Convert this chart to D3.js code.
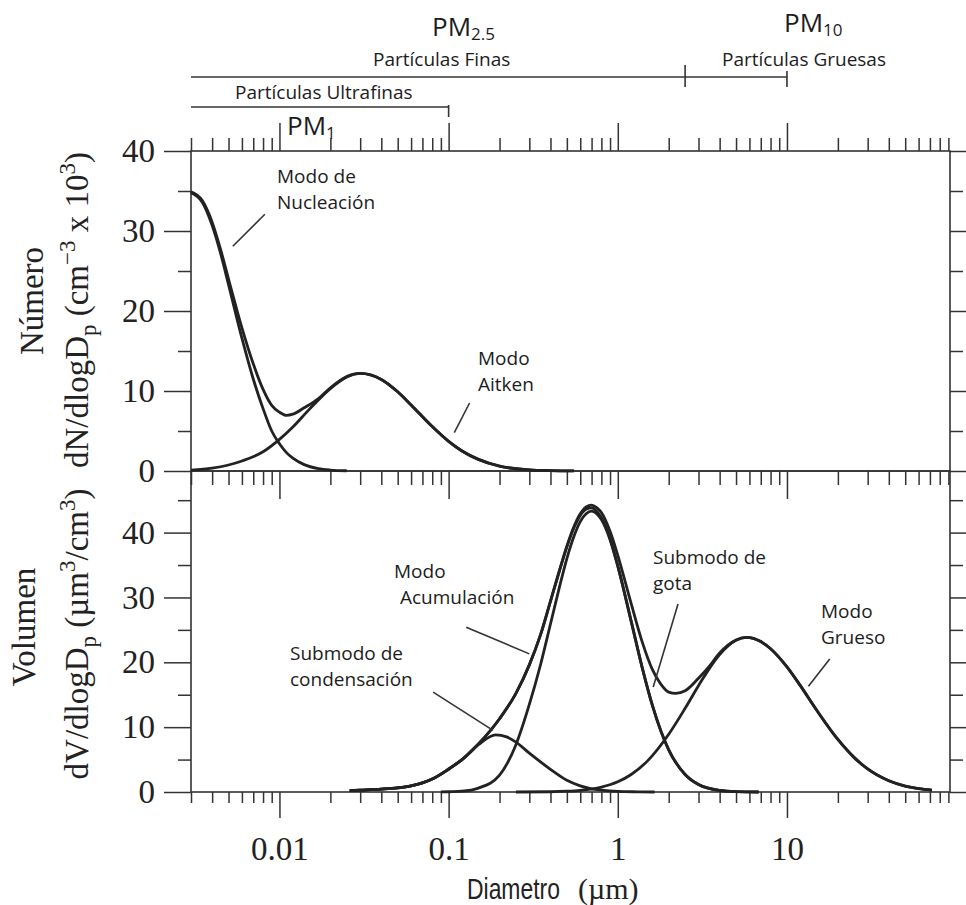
<!DOCTYPE html>
<html>
<head>
<meta charset="utf-8">
<script src="https://cdn.jsdelivr.net/npm/d3@7"></script>
<style>
  body { margin: 0; background: #fff; }
  svg { display: block; }
</style>
</head>
<body>
<svg width="966" height="905"></svg>
<script>
// Particle size distribution (number and volume).
// Diameters in µm.

// --- top panel: dN/dlogDp (cm^-3 x 10^3)
var nuclDp = [0.003, 0.0035, 0.004, 0.0045, 0.005, 0.006, 0.007, 0.008, 0.009, 0.01, 0.011, 0.012, 0.014, 0.017, 0.02, 0.025];
var nuclN  = [34.8, 33.6, 30.7, 27.1, 23.3, 16.6, 11.5, 7.8, 5.0, 3.4, 2.3, 1.6, 0.8, 0.3, 0.12, 0.03];

var aitkenDp = [0.003, 0.004, 0.005, 0.006, 0.008, 0.01, 0.012, 0.015, 0.02, 0.025, 0.03, 0.04, 0.05, 0.06, 0.08, 0.1, 0.12, 0.15, 0.2, 0.3, 0.4, 0.55];
var aitkenN  = [0.12, 0.35, 0.75, 1.25, 2.4, 3.95, 5.5, 7.7, 10.3, 11.75, 12.2, 11.45, 9.9, 8.25, 5.55, 3.7, 2.5, 1.45, 0.6, 0.15, 0.05, 0.01];

var totalNDp = [0.003, 0.0035, 0.004, 0.0045, 0.005, 0.006, 0.007, 0.008, 0.009, 0.01, 0.011, 0.012, 0.014, 0.017, 0.02, 0.025, 0.03, 0.04, 0.05, 0.06, 0.08, 0.1, 0.12, 0.15, 0.2, 0.3, 0.4, 0.55];
var totalN  = [34.9, 33.8, 31.1, 27.6, 24.0, 17.9, 13.4, 10.2, 8.2, 7.35, 6.95, 7.1, 7.9, 9.05, 10.4, 11.8, 12.2, 11.45, 9.9, 8.25, 5.55, 3.7, 2.5, 1.45, 0.6, 0.15, 0.05, 0.01];

// --- bottom panel: dV/dlogDp (µm^3/cm^3)
var condDp = [0.026, 0.03, 0.04, 0.05, 0.06, 0.07, 0.08, 0.1, 0.12, 0.15, 0.19, 0.22, 0.25, 0.3, 0.4, 0.5, 0.6, 0.7, 0.8, 1.0, 1.3, 1.65];
var condV  = [0.2, 0.28, 0.45, 0.65, 0.95, 1.4, 2.0, 3.5, 5.0, 7.3, 8.8, 8.5, 7.7, 6.0, 3.5, 1.8, 0.95, 0.5, 0.3, 0.1, 0.03, 0];

var dropDp = [0.09, 0.1, 0.12, 0.15, 0.2, 0.25, 0.3, 0.35, 0.4, 0.45, 0.5, 0.55, 0.6, 0.65, 0.7, 0.75, 0.8, 0.9, 1.0, 1.2, 1.4, 1.6, 2.0, 2.5, 3, 4, 5, 6.8];
var dropV  = [0, 0.04, 0.12, 0.6, 2.6, 7.3, 13.5, 19.7, 25.9, 31.4, 36.0, 39.4, 41.7, 42.9, 43.3, 42.9, 42.0, 38.9, 34.8, 26.3, 19.0, 13.4, 6.5, 2.7, 1.15, 0.24, 0.06, 0];

var accumDp = [0.026, 0.03, 0.04, 0.05, 0.06, 0.07, 0.08, 0.1, 0.12, 0.15, 0.2, 0.25, 0.3, 0.35, 0.4, 0.45, 0.5, 0.55, 0.6, 0.65, 0.7, 0.75, 0.8, 0.9, 1.0, 1.2, 1.4, 1.6, 2.0, 2.5, 3, 4, 5, 6.8];
var accumV  = [0.2, 0.28, 0.45, 0.65, 0.95, 1.4, 2.0, 3.55, 5.0, 7.4, 11.3, 15.2, 19.6, 24.3, 29.4, 33.9, 37.8, 40.7, 42.65, 43.6, 43.8, 43.3, 42.3, 39.1, 34.9, 26.35, 19.0, 13.4, 6.5, 2.7, 1.15, 0.24, 0.06, 0];

var coarseDp = [0.25, 0.4, 0.5, 0.6, 0.8, 1.0, 1.2, 1.5, 2.0, 2.5, 3, 4, 5, 5.75, 7, 8, 10, 12, 15, 20, 25, 30, 40, 50, 60, 72];
var coarseV  = [0, 0.04, 0.12, 0.26, 0.76, 1.58, 2.7, 4.8, 8.9, 12.9, 16.4, 21.2, 23.4, 23.85, 23.2, 22.1, 19.3, 16.4, 12.6, 8.1, 5.3, 3.55, 1.73, 0.91, 0.51, 0.28];

var totalVDp = [0.026, 0.03, 0.04, 0.05, 0.06, 0.07, 0.08, 0.1, 0.12, 0.15, 0.2, 0.25, 0.3, 0.35, 0.4, 0.45, 0.5, 0.55, 0.6, 0.65, 0.7, 0.75, 0.8, 0.9, 1.0, 1.2, 1.4, 1.6, 1.8, 2.0, 2.2, 2.5, 3, 3.5, 4, 5, 5.75, 7, 8, 10, 12, 15, 20, 25, 30, 40, 50, 60, 72];
var totalV  = [0.2, 0.28, 0.45, 0.65, 0.95, 1.4, 2.0, 3.55, 5.0, 7.4, 11.3, 15.2, 19.6, 24.3, 29.45, 34.0, 37.9, 40.9, 42.9, 43.95, 44.25, 43.85, 43.1, 40.2, 36.5, 29.05, 23.0, 18.9, 16.6, 15.4, 15.2, 15.6, 17.55, 19.5, 21.45, 23.45, 23.85, 23.2, 22.1, 19.3, 16.4, 12.6, 8.1, 5.3, 3.55, 1.73, 0.91, 0.51, 0.28];

// axis ticks
var xMajorTicks = [0.01, 0.1, 1, 10];
var xTickLabels = ["0.01", "0.1", "1", "10"];
var yNMajor = [0, 10, 20, 30, 40];
var yNMinor = [5, 15, 25, 35];
var yVMajor = [0, 10, 20, 30, 40];
var yVMinor = [5, 15, 25, 35, 45];

// PM size cuts (µm): ultrafine < 0.1, fine < 2.5, coarse 2.5-10
var pmCuts = [0.1, 2.5, 10];

// Constants
var LEFT = 191, RIGHT = 950;
var TOP = 151, MID = 471, BOTTOM = 792;
var INK = "#222";
var AXIS = "#333";
var SERIF = "'Liberation Serif', 'Times New Roman', serif";
var SANS = "'Open Sans', 'Noto Sans', sans-serif";

var svg = d3.select("svg");

var x = d3.scaleLog().domain([0.003, 92]).range([LEFT, RIGHT]);
var yN = d3.scaleLinear().domain([0, 40]).range([MID, TOP]);
var yV = d3.scaleLinear().domain([0, 49.5]).range([BOTTOM, MID]);

// minor log ticks = every tick of the log scale that is not a decade
var xMinorTicks = x.ticks().filter(d => {
  var l = Math.log10(d);
  return Math.abs(l - Math.round(l)) > 1e-6;
});

function addAxis(axis, tx, ty) {
  var g = svg.append("g")
    .attr("transform", `translate(${tx},${ty})`)
    .call(axis);
  g.select(".domain").remove();
  g.selectAll("line").attr("stroke", AXIS).attr("stroke-width", 1.5);
  g.selectAll("text")
    .attr("font-family", SERIF)
    .attr("font-size", 33)
    .attr("fill", INK);
  return g;
}

function drawAxes() {
  // top edge, ticks pointing up
  addAxis(d3.axisTop(x).tickValues(xMajorTicks).tickSize(28).tickFormat(""), 0, TOP);
  addAxis(d3.axisTop(x).tickValues(xMinorTicks).tickSize(13).tickFormat(""), 0, TOP);

  // panel separator, ticks pointing down
  addAxis(d3.axisBottom(x).tickValues(xMajorTicks).tickSize(28).tickFormat(""), 0, MID);
  addAxis(d3.axisBottom(x).tickValues(xMinorTicks).tickSize(14).tickFormat(""), 0, MID);

  // bottom edge with labels
  addAxis(d3.axisBottom(x).tickValues(xMajorTicks).tickSize(26).tickPadding(19)
    .tickFormat((d, i) => xTickLabels[i]), 0, BOTTOM);
  addAxis(d3.axisBottom(x).tickValues(xMinorTicks).tickSize(11).tickFormat(""), 0, BOTTOM);

  // left
  addAxis(d3.axisLeft(yN).tickValues(yNMajor).tickSize(27).tickPadding(9), LEFT, 0);
  addAxis(d3.axisLeft(yN).tickValues(yNMinor).tickSize(13).tickFormat(""), LEFT, 0);
  addAxis(d3.axisLeft(yV).tickValues(yVMajor).tickSize(27).tickPadding(9), LEFT, 0);
  addAxis(d3.axisLeft(yV).tickValues(yVMinor).tickSize(13).tickFormat(""), LEFT, 0);

  // right, no labels
  addAxis(d3.axisRight(yN).tickValues(yNMajor).tickSize(16).tickFormat(""), RIGHT, 0);
  addAxis(d3.axisRight(yN).tickValues(yNMinor).tickSize(13).tickFormat(""), RIGHT, 0);
  addAxis(d3.axisRight(yV).tickValues(yVMajor).tickSize(16).tickFormat(""), RIGHT, 0);
  addAxis(d3.axisRight(yV).tickValues(yVMinor).tickSize(13).tickFormat(""), RIGHT, 0);

  // frames
  [[TOP, MID], [MID, BOTTOM]].forEach(p => {
    svg.append("rect")
      .attr("x", LEFT).attr("y", p[0])
      .attr("width", RIGHT - LEFT).attr("height", p[1] - p[0])
      .attr("fill", "none").attr("stroke", AXIS).attr("stroke-width", 1.6);
  });
}

var line = d3.line().curve(d3.curveMonotoneX);

function drawCurve(dp, vals, yScale) {
  var pts = dp.map((d, i) => [x(d), yScale(vals[i])]);
  svg.append("path")
    .attr("d", line(pts))
    .attr("fill", "none")
    .attr("stroke", INK)
    .attr("stroke-width", 2.8)
    .attr("stroke-linejoin", "round");
}

function drawCurves() {
  drawCurve(nuclDp, nuclN, yN);
  drawCurve(aitkenDp, aitkenN, yN);
  drawCurve(totalNDp, totalN, yN);

  drawCurve(condDp, condV, yV);
  drawCurve(dropDp, dropV, yV);
  drawCurve(accumDp, accumV, yV);
  drawCurve(coarseDp, coarseV, yV);
  drawCurve(totalVDp, totalV, yV);
}

// mode labels (text) and their leader lines (diameter, value)
var modeLabels = [
  { lines: ["Modo de", "Nucleación"], x: 277, y: 183, indent: [0, 0] },
  { lines: ["Modo", "Aitken"], x: 478, y: 365, indent: [0, 0] },
  { lines: ["Modo", "Acumulación"], x: 394, y: 578, indent: [0, 6] },
  { lines: ["Submodo de", "condensación"], x: 290, y: 660, indent: [0, 0] },
  { lines: ["Submodo de", "gota"], x: 653, y: 564, indent: [0, 0] },
  { lines: ["Modo", "Grueso"], x: 821, y: 618, indent: [0, 0] }
];
var leaders = [
  { panel: "N", from: [0.0082, 32.1], to: [0.0053, 28.1] },
  { panel: "N", from: [0.133, 8.5], to: [0.108, 4.8] },
  { panel: "V", from: [0.127, 25.4], to: [0.30, 21.3] },
  { panel: "V", from: [0.081, 15.4], to: [0.183, 9.5] },
  { panel: "V", from: [2.27, 29.0], to: [1.62, 16.2] },
  { panel: "V", from: [17.9, 20.5], to: [13.4, 16.3] }
];

function drawModeLabels() {
  leaders.forEach(l => {
    var ys = l.panel === "N" ? yN : yV;
    svg.append("line")
      .attr("x1", x(l.from[0])).attr("y1", ys(l.from[1]))
      .attr("x2", x(l.to[0])).attr("y2", ys(l.to[1]))
      .attr("stroke", AXIS).attr("stroke-width", 1.6);
  });

  modeLabels.forEach(m => {
    m.lines.forEach((t, i) => {
      svg.append("text")
        .attr("x", m.x + m.indent[i]).attr("y", m.y + i * 26)
        .attr("font-family", SANS).attr("font-size", 19)
        .attr("fill", "#1c1c1c")
        .text(t);
    });
  });
}

// PM brackets along the top
function pmLabel(xp, yp, sub) {
  var t = svg.append("text")
    .attr("x", xp).attr("y", yp)
    .attr("font-family", SANS).attr("font-size", 26)
    .attr("fill", "#1c1c1c");
  t.append("tspan").text("PM");
  t.append("tspan").attr("font-size", 17).attr("dy", 4).text(sub);
}

function drawPmBrackets() {
  var yFine = 77, yUltra = 107;
  var g = svg.append("g").attr("stroke", AXIS).attr("stroke-width", 1.6);

  // fine + coarse line: 0.003 .. 2.5 .. 10
  g.append("line").attr("x1", LEFT).attr("x2", x(pmCuts[2])).attr("y1", yFine).attr("y2", yFine);
  g.append("line").attr("x1", x(pmCuts[1])).attr("x2", x(pmCuts[1])).attr("y1", yFine - 12).attr("y2", yFine + 10);
  g.append("line").attr("x1", x(pmCuts[2])).attr("x2", x(pmCuts[2])).attr("y1", yFine - 6).attr("y2", yFine + 10);

  // ultrafine line: 0.003 .. 0.1
  g.append("line").attr("x1", LEFT).attr("x2", x(pmCuts[0])).attr("y1", yUltra).attr("y2", yUltra);
  g.append("line").attr("x1", x(pmCuts[0])).attr("x2", x(pmCuts[0])).attr("y1", yUltra - 2).attr("y2", yUltra + 10);

  pmLabel(432, 36, "2.5");
  pmLabel(784, 32, "10");
  pmLabel(287, 135, "1");

  [["Partículas Finas", 373, 66], ["Partículas Gruesas", 722, 66], ["Partículas Ultrafinas", 235, 99]]
    .forEach(d => {
      svg.append("text").attr("x", d[1]).attr("y", d[2])
        .attr("font-family", SANS).attr("font-size", 19)
        .attr("fill", "#1c1c1c").text(d[0]);
    });
}

function axisTitles() {
  // y titles, rotated
  var tN = svg.append("g").attr("font-family", SERIF).attr("fill", INK);
  tN.append("text").attr("transform", "translate(43,301) rotate(-90)")
    .attr("text-anchor", "middle").attr("font-size", 33).text("Número");
  var t2 = tN.append("text").attr("transform", "translate(88,310) rotate(-90)")
    .attr("text-anchor", "middle").attr("font-size", 33);
  t2.append("tspan").text("dN/dlogD");
  t2.append("tspan").attr("font-size", 23).attr("dy", 8).text("p");
  t2.append("tspan").attr("dy", -8).text(" (cm");
  t2.append("tspan").attr("font-size", 23).attr("dy", -13).text("\u22123");
  t2.append("tspan").attr("dy", 13).text(" x 10");
  t2.append("tspan").attr("font-size", 23).attr("dy", -13).text("3");
  t2.append("tspan").attr("dy", 13).text(")");

  tN.append("text").attr("transform", "translate(35,627) rotate(-90)")
    .attr("text-anchor", "middle").attr("font-size", 33).text("Volumen");
  var t3 = tN.append("text").attr("transform", "translate(88,634) rotate(-90)")
    .attr("text-anchor", "middle").attr("font-size", 33);
  t3.append("tspan").text("dV/dlogD");
  t3.append("tspan").attr("font-size", 23).attr("dy", 8).text("p");
  t3.append("tspan").attr("dy", -8).text(" (\u00b5m");
  t3.append("tspan").attr("font-size", 23).attr("dy", -13).text("3");
  t3.append("tspan").attr("dy", 13).text("/cm");
  t3.append("tspan").attr("font-size", 23).attr("dy", -13).text("3");
  t3.append("tspan").attr("dy", 13).text(")");

  // x title: condensed sans word (squeezed horizontally), serif unit
  svg.append("text").attr("transform", "translate(467,899) scale(0.79,1)")
    .attr("fill", INK)
    .attr("font-family", "'Liberation Sans', Arial, sans-serif")
    .attr("font-size", 29)
    .text("Diametro");
  svg.append("text").attr("x", 578).attr("y", 899).attr("fill", INK)
    .attr("font-family", SERIF).attr("font-size", 30)
    .text("(\u00b5m)");
}

drawAxes();
drawCurves();
drawModeLabels();
drawPmBrackets();
axisTitles();
</script>
</body>
</html>
